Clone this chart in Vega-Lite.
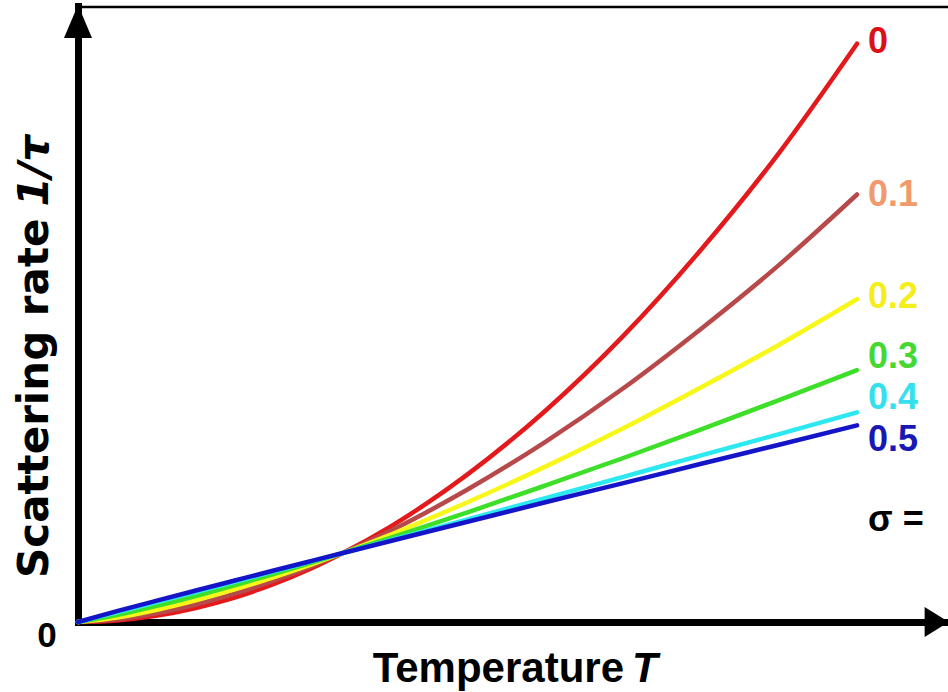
{
  "$schema": "https://vega.github.io/schema/vega-lite/v6.json",
  "width": 870,
  "height": 616,
  "autosize": {"type": "none"},
  "padding": {"left": 78, "top": 6, "right": 0, "bottom": 70},
  "background": "white",
  "config": {"view": {"stroke": null}},
  "datasets": {
    "curves": [
      {"sigma": "0", "T": 0, "rate": 0}, {"sigma": "0", "T": 0.05, "rate": 0.016}, {"sigma": "0", "T": 0.1, "rate": 0.062}, {"sigma": "0", "T": 0.15, "rate": 0.138}, {"sigma": "0", "T": 0.2, "rate": 0.242}, {"sigma": "0", "T": 0.25, "rate": 0.376}, {"sigma": "0", "T": 0.3, "rate": 0.538}, {"sigma": "0", "T": 0.34, "rate": 0.69}, {"sigma": "0", "T": 0.4, "rate": 0.949}, {"sigma": "0", "T": 0.5, "rate": 1.476}, {"sigma": "0", "T": 0.6, "rate": 2.113}, {"sigma": "0", "T": 0.7, "rate": 2.861}, {"sigma": "0", "T": 0.8, "rate": 3.725}, {"sigma": "0", "T": 0.9, "rate": 4.692}, {"sigma": "0", "T": 1.0, "rate": 5.783},
      {"sigma": "0.1", "T": 0, "rate": 0}, {"sigma": "0.1", "T": 0.05, "rate": 0.027}, {"sigma": "0.1", "T": 0.1, "rate": 0.087}, {"sigma": "0.1", "T": 0.15, "rate": 0.173}, {"sigma": "0.1", "T": 0.2, "rate": 0.281}, {"sigma": "0.1", "T": 0.25, "rate": 0.41}, {"sigma": "0.1", "T": 0.3, "rate": 0.558}, {"sigma": "0.1", "T": 0.34, "rate": 0.69}, {"sigma": "0.1", "T": 0.4, "rate": 0.907}, {"sigma": "0.1", "T": 0.5, "rate": 1.325}, {"sigma": "0.1", "T": 0.6, "rate": 1.802}, {"sigma": "0.1", "T": 0.7, "rate": 2.337}, {"sigma": "0.1", "T": 0.8, "rate": 2.933}, {"sigma": "0.1", "T": 0.9, "rate": 3.571}, {"sigma": "0.1", "T": 1.0, "rate": 4.275},
      {"sigma": "0.2", "T": 0, "rate": 0}, {"sigma": "0.2", "T": 0.05, "rate": 0.045}, {"sigma": "0.2", "T": 0.1, "rate": 0.12}, {"sigma": "0.2", "T": 0.15, "rate": 0.214}, {"sigma": "0.2", "T": 0.2, "rate": 0.323}, {"sigma": "0.2", "T": 0.25, "rate": 0.444}, {"sigma": "0.2", "T": 0.3, "rate": 0.576}, {"sigma": "0.2", "T": 0.34, "rate": 0.69}, {"sigma": "0.2", "T": 0.4, "rate": 0.87}, {"sigma": "0.2", "T": 0.5, "rate": 1.198}, {"sigma": "0.2", "T": 0.6, "rate": 1.554}, {"sigma": "0.2", "T": 0.7, "rate": 1.937}, {"sigma": "0.2", "T": 0.8, "rate": 2.347}, {"sigma": "0.2", "T": 0.9, "rate": 2.773}, {"sigma": "0.2", "T": 1.0, "rate": 3.228},
      {"sigma": "0.3", "T": 0, "rate": 0}, {"sigma": "0.3", "T": 0.05, "rate": 0.069}, {"sigma": "0.3", "T": 0.1, "rate": 0.159}, {"sigma": "0.3", "T": 0.15, "rate": 0.258}, {"sigma": "0.3", "T": 0.2, "rate": 0.365}, {"sigma": "0.3", "T": 0.25, "rate": 0.477}, {"sigma": "0.3", "T": 0.3, "rate": 0.593}, {"sigma": "0.3", "T": 0.34, "rate": 0.69}, {"sigma": "0.3", "T": 0.4, "rate": 0.838}, {"sigma": "0.3", "T": 0.5, "rate": 1.096}, {"sigma": "0.3", "T": 0.6, "rate": 1.365}, {"sigma": "0.3", "T": 0.7, "rate": 1.64}, {"sigma": "0.3", "T": 0.8, "rate": 1.927}, {"sigma": "0.3", "T": 0.9, "rate": 2.219}, {"sigma": "0.3", "T": 1.0, "rate": 2.519},
      {"sigma": "0.4", "T": 0, "rate": 0}, {"sigma": "0.4", "T": 0.05, "rate": 0.096}, {"sigma": "0.4", "T": 0.1, "rate": 0.196}, {"sigma": "0.4", "T": 0.15, "rate": 0.297}, {"sigma": "0.4", "T": 0.2, "rate": 0.399}, {"sigma": "0.4", "T": 0.25, "rate": 0.503}, {"sigma": "0.4", "T": 0.3, "rate": 0.606}, {"sigma": "0.4", "T": 0.34, "rate": 0.69}, {"sigma": "0.4", "T": 0.4, "rate": 0.815}, {"sigma": "0.4", "T": 0.5, "rate": 1.027}, {"sigma": "0.4", "T": 0.6, "rate": 1.239}, {"sigma": "0.4", "T": 0.7, "rate": 1.452}, {"sigma": "0.4", "T": 0.8, "rate": 1.667}, {"sigma": "0.4", "T": 0.9, "rate": 1.879}, {"sigma": "0.4", "T": 1.0, "rate": 2.096},
      {"sigma": "0.5", "T": 0, "rate": 0}, {"sigma": "0.5", "T": 0.05, "rate": 0.108}, {"sigma": "0.5", "T": 0.1, "rate": 0.211}, {"sigma": "0.5", "T": 0.15, "rate": 0.312}, {"sigma": "0.5", "T": 0.2, "rate": 0.412}, {"sigma": "0.5", "T": 0.25, "rate": 0.512}, {"sigma": "0.5", "T": 0.3, "rate": 0.611}, {"sigma": "0.5", "T": 0.34, "rate": 0.69}, {"sigma": "0.5", "T": 0.4, "rate": 0.807}, {"sigma": "0.5", "T": 0.5, "rate": 1.003}, {"sigma": "0.5", "T": 0.6, "rate": 1.197}, {"sigma": "0.5", "T": 0.7, "rate": 1.389}, {"sigma": "0.5", "T": 0.8, "rate": 1.582}, {"sigma": "0.5", "T": 0.9, "rate": 1.773}, {"sigma": "0.5", "T": 1.0, "rate": 1.966}
    ],
    "labels": [
      {"sigma": "0", "T": 1.0, "rate": 5.8},
      {"sigma": "0.1", "T": 1.0, "rate": 4.27},
      {"sigma": "0.2", "T": 1.0, "rate": 3.25},
      {"sigma": "0.3", "T": 1.0, "rate": 2.65},
      {"sigma": "0.4", "T": 1.0, "rate": 2.24},
      {"sigma": "0.5", "T": 1.0, "rate": 1.82},
      {"sigma": "σ =", "T": 1.0, "rate": 1.02}
    ],
    "one": [{}]
  },
  "layer": [
    {
      "data": {"name": "curves"},
      "mark": {"type": "line", "strokeWidth": 4.5, "interpolate": "monotone", "strokeCap": "round"},
      "encoding": {
        "x": {
          "field": "T", "type": "quantitative",
          "scale": {"domain": [0, 1.1168], "nice": false, "zero": false},
          "axis": {"domain": true, "domainColor": "black", "domainWidth": 7, "domainCap": "square", "ticks": false, "labels": false, "grid": false, "title": null}
        },
        "y": {
          "field": "rate", "type": "quantitative",
          "scale": {"domain": [0, 6.16], "nice": false, "zero": false},
          "axis": {"domain": true, "domainColor": "black", "domainWidth": 7, "domainCap": "square", "ticks": false, "labels": false, "grid": false, "title": null}
        },
        "color": {
          "field": "sigma", "type": "nominal",
          "scale": {"domain": ["0", "0.1", "0.2", "0.3", "0.4", "0.5"], "range": ["#e3191c", "#b8494b", "#f7f71a", "#3ddf28", "#2ce8f0", "#1414c8"]},
          "legend": null
        }
      }
    },
    {
      "data": {"name": "labels"},
      "mark": {"type": "text", "align": "left", "baseline": "middle", "dx": 11, "font": "Liberation Sans", "fontWeight": "bold", "fontSize": 36},
      "encoding": {
        "x": {"field": "T", "type": "quantitative"},
        "y": {"field": "rate", "type": "quantitative"},
        "text": {"field": "sigma"},
        "color": {
          "field": "sigma", "type": "nominal",
          "scale": {"domain": ["0", "0.1", "0.2", "0.3", "0.4", "0.5", "σ ="], "range": ["#d9121a", "#f09a6e", "#f4ee1c", "#44d831", "#35e0ee", "#1818b4", "#000000"]},
          "legend": null
        }
      }
    },
    {
      "data": {"name": "one"},
      "mark": {"type": "rule", "color": "black", "strokeWidth": 2.5},
      "encoding": {"y": {"datum": 6.15}}
    },
    {
      "data": {"name": "one"},
      "mark": {"type": "point", "filled": true, "color": "black", "opacity": 1, "strokeWidth": 0, "shape": "M-0.85,1L0,-1L0.85,1Z", "size": 1089},
      "encoding": {"x": {"datum": 0}, "y": {"datum": 6.005}}
    },
    {
      "data": {"name": "one"},
      "mark": {"type": "point", "filled": true, "color": "black", "opacity": 1, "strokeWidth": 0, "shape": "M-1,-1.25L1,0L-1,1.25Z", "size": 576},
      "encoding": {"x": {"datum": 1.1022}, "y": {"datum": 0}}
    },
    {
      "data": {"name": "one"},
      "mark": {"type": "text", "text": "0", "align": "center", "baseline": "middle", "dx": -31, "dy": 14, "font": "Liberation Sans", "fontWeight": "bold", "fontSize": 35, "color": "black"},
      "encoding": {"x": {"datum": 0}, "y": {"datum": 0}}
    },
    {
      "data": {"name": "one"},
      "mark": {"type": "text", "text": "Scattering rate", "angle": 270, "align": "left", "baseline": "alphabetic", "font": "DejaVu Sans", "fontWeight": "bold", "fontSize": 42, "color": "black"},
      "encoding": {"x": {"datum": -0.0385}, "y": {"datum": 0.44}}
    },
    {
      "data": {"name": "one"},
      "mark": {"type": "text", "text": "1/τ", "angle": 270, "align": "right", "baseline": "alphabetic", "font": "DejaVu Sans", "fontWeight": "bold", "fontStyle": "italic", "fontSize": 42, "color": "black"},
      "encoding": {"x": {"datum": -0.0385}, "y": {"datum": 4.87}}
    },
    {
      "data": {"name": "one"},
      "mark": {"type": "text", "text": "Temperature", "align": "right", "baseline": "alphabetic", "font": "Liberation Sans", "fontWeight": "bold", "fontSize": 42, "color": "black"},
      "encoding": {"x": {"datum": 0.7009}, "y": {"datum": -0.6}}
    },
    {
      "data": {"name": "one"},
      "mark": {"type": "text", "text": "T", "align": "left", "baseline": "alphabetic", "font": "Liberation Sans", "fontWeight": "bold", "fontStyle": "italic", "fontSize": 42, "color": "black"},
      "encoding": {"x": {"datum": 0.7112}, "y": {"datum": -0.6}}
    }
  ],
  "resolve": {"scale": {"color": "independent"}}
}
